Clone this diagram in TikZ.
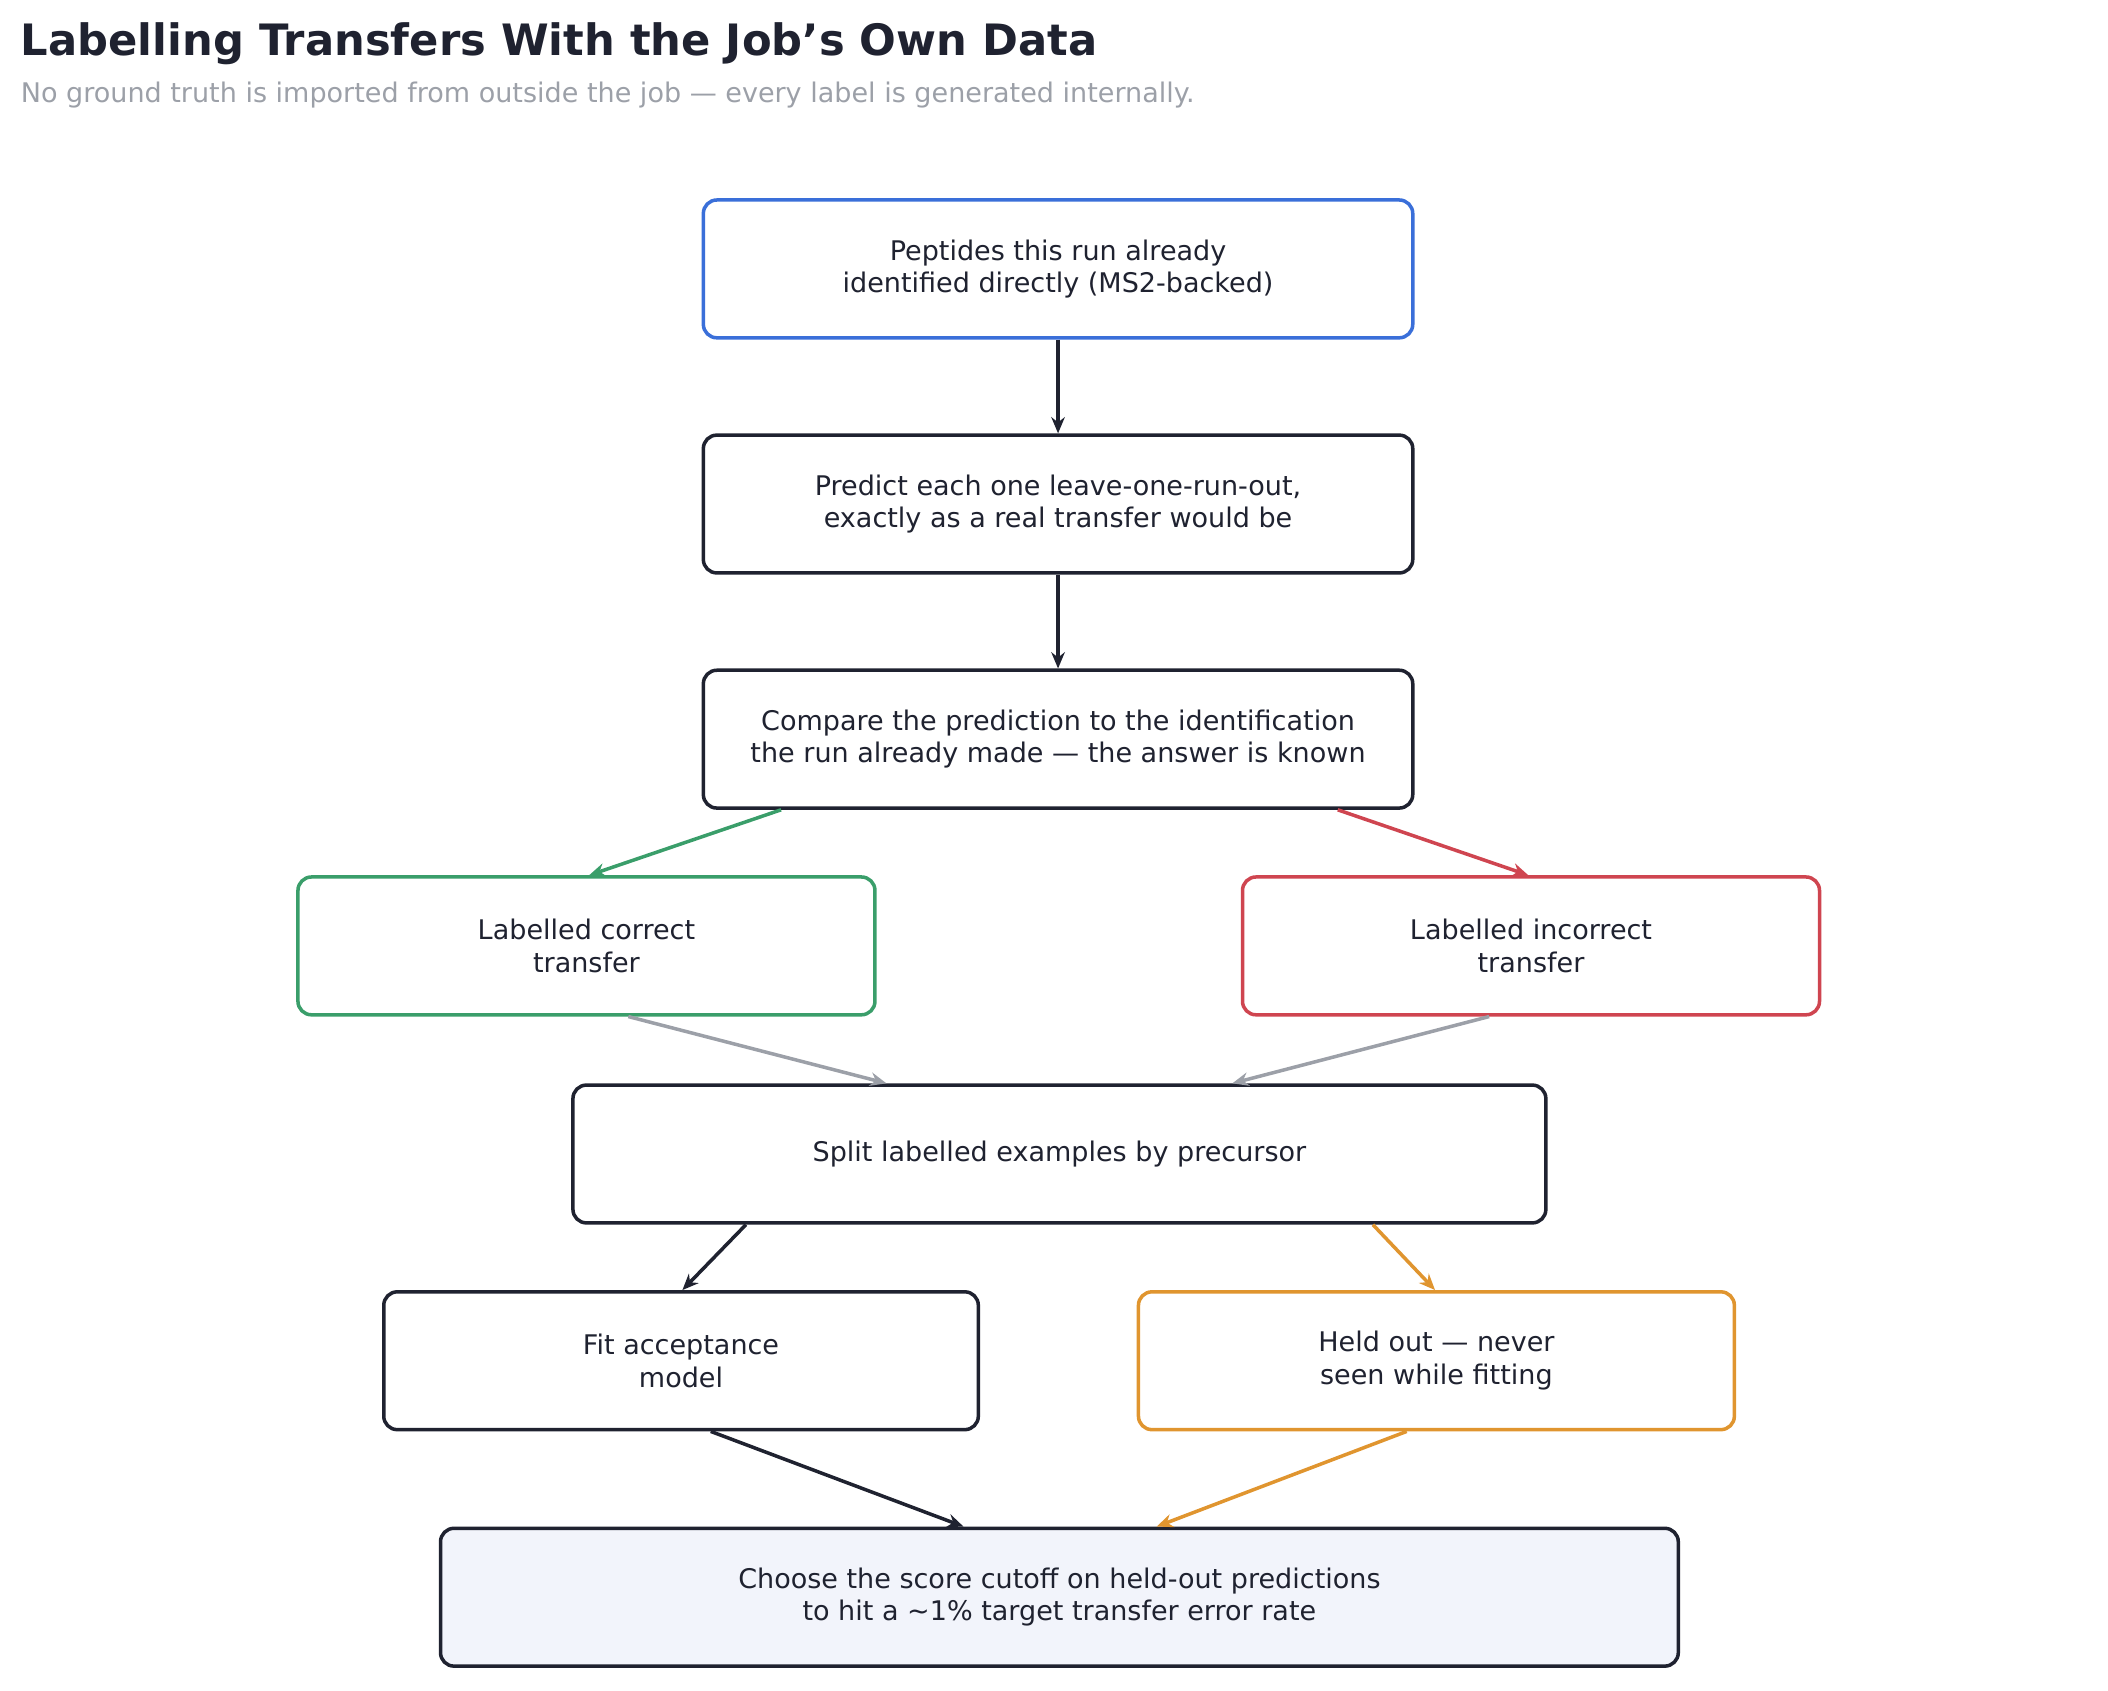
\documentclass[tikz,border=0pt]{standalone}
\usepackage{fontspec}
\setmainfont{DejaVu Sans}
\usetikzlibrary{arrows.meta}
\definecolor{ink}{HTML}{1F2230}
\definecolor{bl}{HTML}{3A6FD9}
\definecolor{gr}{HTML}{3A9E6A}
\definecolor{rd}{HTML}{CF4550}
\definecolor{og}{HTML}{E0952F}
\definecolor{gy}{HTML}{9CA0A8}
\definecolor{pale}{HTML}{F2F4FB}
\tikzset{
  box/.style={draw=ink, line width=1.3pt, rounded corners=5pt, fill=white,
    minimum height=51pt, align=center, text=ink, font=\fontsize{10}{12}\selectfont, inner sep=0pt},
  flow/.style={draw=ink, line width=1.3pt, -{Stealth[length=6pt,width=5pt]}},
}
\begin{document}
\begin{tikzpicture}[x=0.5pt,y=-0.5pt]
\useasboundingbox (0,0) rectangle (1560,1251);
\node (title) [anchor=base west, font=\bfseries\fontsize{16}{19}\selectfont, text=ink, inner sep=0pt] at (15,41) {Labelling Transfers With the Job's Own Data};
\node (sub) [anchor=base west, font=\fontsize{10}{12}\selectfont, text=gy, inner sep=0pt] at (15,76) {No ground truth is imported from outside the job — every label is generated internally.};
\node (ident) [box, draw=bl, minimum width=262.5pt] at (783,199) {Peptides this run already\\identified directly (MS2-backed)};
\node (pred) [box, minimum width=262.5pt] at (783,373) {Predict each one leave-one-run-out,\\exactly as a real transfer would be};
\node (comp) [box, minimum width=262.5pt] at (783,547) {Compare the prediction to the identification\\the run already made — the answer is known};
\node (good) [box, draw=gr, minimum width=213.5pt] at (434,700) {Labelled correct\\transfer};
\node (bad) [box, draw=rd, minimum width=213.5pt] at (1133,700) {Labelled incorrect\\transfer};
\node (split) [box, minimum width=360pt] at (784,854) {Split labelled examples by precursor};
\node (fit) [box, minimum width=220pt] at (504,1007) {Fit acceptance\\model};
\node (held) [box, draw=og, minimum width=220.5pt] at (1063,1007) {Held out — never\\seen while fitting};
\node (cut) [box, fill=pale, minimum width=458pt] at (784,1182) {Choose the score cutoff on held-out predictions\\to hit a \textasciitilde1\% target transfer error rate};
\draw [flow] (ident) -- (pred);
\draw [flow] (pred) -- (comp);
\draw [flow, draw=gr] ([xshift=-102.5pt]comp.south) -- ([xshift=1pt]good.north);
\draw [flow, draw=rd] ([xshift=103.5pt]comp.south) -- ([xshift=-1pt]bad.north);
\draw [flow, draw=gy] ([xshift=15.5pt]good.south) -- ([xshift=-64pt]split.north);
\draw [flow, draw=gy] ([xshift=-15.5pt]bad.south) -- ([xshift=64pt]split.north);
\draw [flow] ([xshift=-116pt]split.south) -- ([xshift=0.5pt]fit.north);
\draw [flow, draw=og] ([xshift=116pt]split.south) -- ([xshift=-0.5pt]held.north);
\draw [flow] ([xshift=11pt]fit.south) -- ([xshift=-35.5pt]cut.north);
\draw [flow, draw=og] ([xshift=-11pt]held.south) -- ([xshift=36pt]cut.north);
\end{tikzpicture}
\end{document}
